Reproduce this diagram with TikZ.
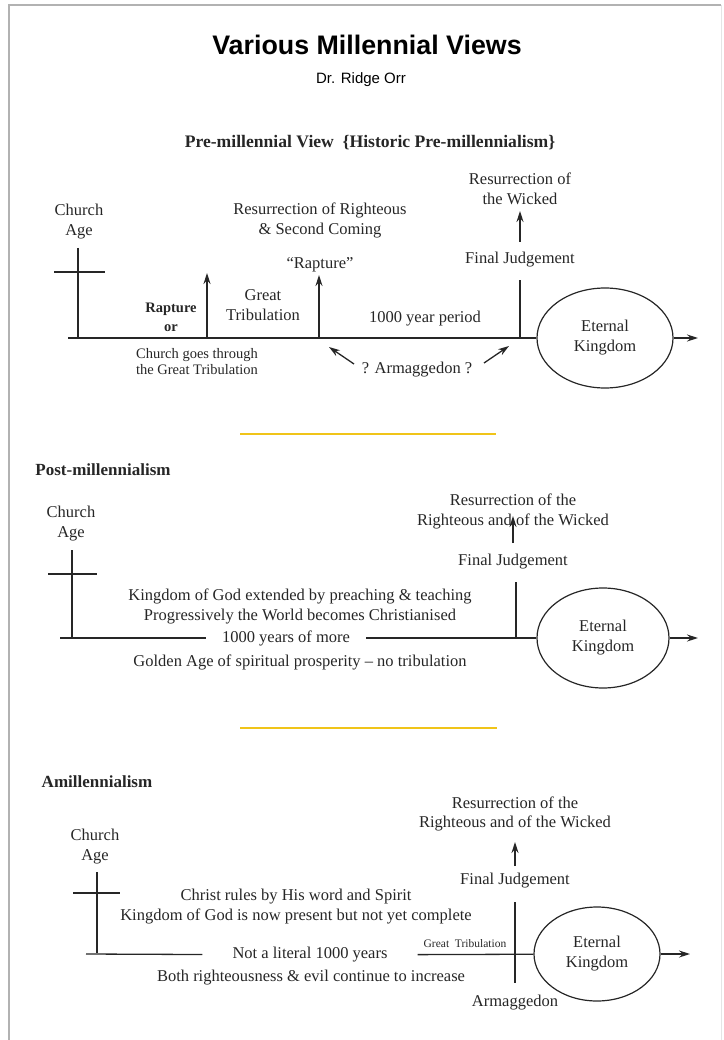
\documentclass[tikz,border=0pt]{standalone}
\usepackage{fontspec}
\setmainfont{Liberation Serif}
\newfontfamily\headfont{Liberation Sans}
\usepackage{xcolor}
\usetikzlibrary{arrows.meta,shapes.geometric}
\definecolor{ink}{HTML}{262626}
\definecolor{rulegold}{HTML}{F0C419}
\tikzset{
	body/.style={font=\fontsize{16.5}{20}\selectfont, text=ink, align=center, inner sep=0pt},
	small/.style={font=\fontsize{14.5}{16}\selectfont, text=ink, align=center, inner sep=0pt},
	heading/.style={font=\bfseries\fontsize{17}{20}\selectfont, text=ink, inner sep=0pt},
	line/.style={draw=ink, line width=1.3pt},
	crossbar/.style={draw=ink, line width=1.8pt},
	arr/.style={line, -{Stealth[length=11pt,width=7pt]}},
	kingdom/.style={ellipse, draw=ink, line width=1.2pt, body},
	divider/.style={draw=rulegold, line width=2pt}
}

\begin{document}
\begin{tikzpicture}[x=1pt,y=-1pt]
	\useasboundingbox (0,0) rectangle (723,1040);

	% Draw the page frame
	\draw[gray!60, line width=1.2pt] (9,1040) -- (9,5) -- (721,5);
	\draw[gray!20, line width=1pt] (721,5) -- (721,1040);

	% Title
	\node[font=\headfont\bfseries\fontsize{26.8}{30}\selectfont, text=black] (title) at (367,45) {Various Millennial Views};
	\node[font=\headfont\fontsize{15}{18}\selectfont, text=black] (author) at (361,80) {Dr. Ridge Orr};

	% Pre-millennial view
	\node[heading, font=\bfseries\fontsize{17.6}{20}\selectfont] (pre) at (370,143) {Pre-millennial View\ \ \{Historic Pre-millennialism\}};
	\node[body] (church1) at (79,222) {Church\\Age};
	\draw[crossbar] (78,248) -- (78,338);
	\draw[crossbar] (54,272) -- (105,272);

	\node[kingdom, minimum width=136pt, minimum height=100pt] (ek1) at (605,338) {Eternal\\Kingdom};
	\coordinate (s1) at (68,338);
	\coordinate (e1) at (698,338);
	\draw[line] (s1) -- (ek1);
	\draw[arr] (ek1) -- (e1);

	\node[small, font=\bfseries\fontsize{14.5}{19}\selectfont] (rap) at (171,317) {Rapture\\or};
	\node[small] (goes) at (197,362) {Church goes through\\the Great Tribulation};
	\node[body] (great) at (263,305) {Great\\Tribulation};
	\node[body] (rapq) at (320,265) {“Rapture”};
	\node[body] (resr) at (320,220) {Resurrection of Righteous\\\& Second Coming};

	% Label arrows on the time line
	\coordinate (a1) at (207,338);
	\coordinate (a1t) at (207,273);
	\coordinate (a2) at (319,338);
	\coordinate (a2t) at (319,275);
	\draw[arr] (a1) -- (a1t);
	\draw[arr] (a2) -- (a2t);

	\node[body] (period) at (425,319) {1000 year period};
	\node[body] (fj1) at (520,260) {Final Judgement};
	\node[body] (resw) at (520,189) {Resurrection of\\the Wicked};
	\coordinate (j1) at (520,338);
	\coordinate (j1t) at (520,280);
	\draw[line] (j1) -- (j1t);
	\coordinate (w1) at (520,242);
	\coordinate (w1t) at (520,211);
	\draw[arr] (w1) -- (w1t);

	\node[body] (arm) at (417,370) {? Armaggedon ?};
	\coordinate (arml) at (329,347);
	\coordinate (armr) at (509,346);
	\draw[arr] (354,364) -- (arml);
	\draw[arr] (484,363) -- (armr);

	% Divider
	\draw[divider] (240,434) -- (496,434);

	% Post-millennialism
	\node[heading] (post) at (103,470) {Post-millennialism};
	\node[body] (church2) at (71,524) {Church\\Age};
	\draw[crossbar] (72,550) -- (72,638);
	\draw[crossbar] (48,574) -- (97,574);

	\node[kingdom, minimum width=132pt, minimum height=100pt] (ek2) at (603,638) {Eternal\\Kingdom};
	\node[body, inner xsep=16pt] (yrs) at (286,638) {1000 years of more};
	\coordinate (s2) at (60,638);
	\coordinate (e2) at (698,638);
	\draw[line] (s2) -- (yrs);
	\draw[line] (yrs) -- (ek2);
	\draw[arr] (ek2) -- (e2);

	\node[body] (kg2) at (300,606) {Kingdom of God extended by preaching \& teaching\\Progressively the World becomes Christianised};
	\node[body] (golden) at (300,662) {Golden Age of spiritual prosperity – no tribulation};

	\node[body] (fj2) at (513,562) {Final Judgement};
	\node[body] (resb2) at (513,511) {Resurrection of the\\Righteous and of the Wicked};
	\coordinate (j2) at (516,638);
	\coordinate (j2t) at (516,582);
	\draw[line] (j2) -- (j2t);
	\coordinate (w2) at (513,543);
	\coordinate (w2t) at (513,516);
	\draw[arr] (w2) -- (w2t);

	% Divider
	\draw[divider] (240,728) -- (497,728);

	% Amillennialism
	\node[heading] (amil) at (97,782) {Amillennialism};
	\node[body] (church3) at (95,847) {Church\\Age};
	\draw[crossbar] (97,872) -- (97,953);
	\draw[crossbar] (73,893) -- (120,893);

	\node[kingdom, minimum width=126pt, minimum height=94pt] (ek3) at (597,954) {Eternal\\Kingdom};
	\node[body, inner xsep=30pt] (lit) at (310,955) {Not a literal 1000 years};
	\coordinate (s3) at (86,954);
	\coordinate (e3) at (690,954);
	\draw[line] (s3) -- (lit);
	\draw[line] (lit) -- (ek3);
	\draw[arr] (ek3) -- (e3);

	\node[body] (christ) at (296,907) {Christ rules by His word and Spirit\\Kingdom of God is now present but not yet complete};
	\node[body] (both) at (311,978) {Both righteousness \& evil continue to increase};

	\node[small, font=\fontsize{11.5}{13}\selectfont] (gt) at (465,944) {Great\ \ Tribulation};
	\coordinate (j3) at (515,902);
	\coordinate (j3b) at (515,983);
	\draw[line] (j3) -- (j3b);
	\node[body] (fj3) at (515,881) {Final Judgement};
	\node[body, font=\fontsize{16.5}{18.5}\selectfont] (resb3) at (515,814) {Resurrection of the\\Righteous and of the Wicked};
	\coordinate (w3) at (515,866);
	\coordinate (w3t) at (515,842);
	\draw[arr] (w3) -- (w3t);
	\node[body] (arma) at (515,1003) {Armaggedon};
\end{tikzpicture}
\end{document}
